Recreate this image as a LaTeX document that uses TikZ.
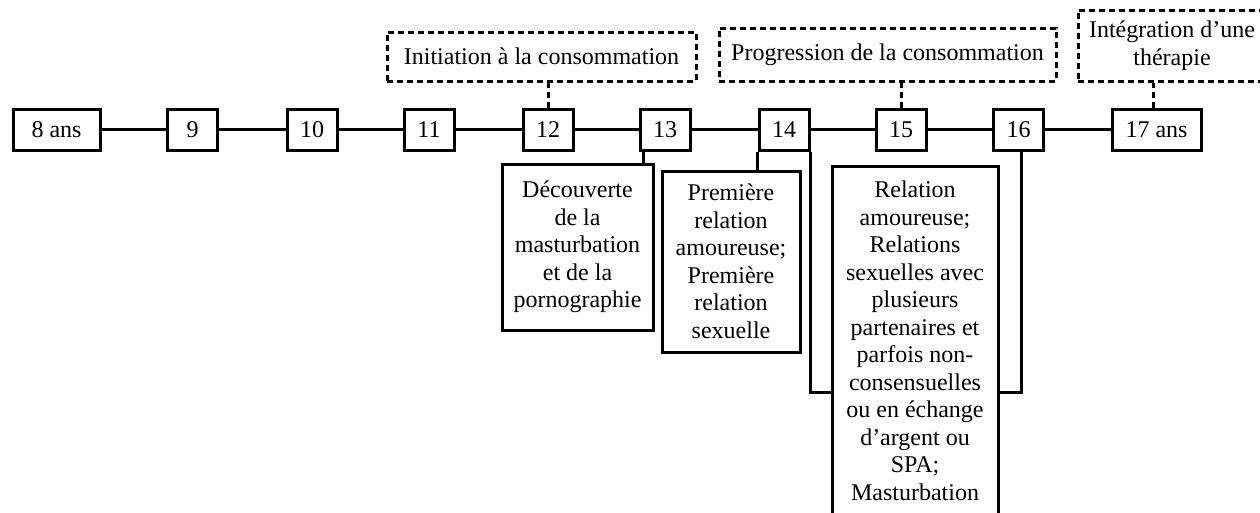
\documentclass[tikz,border=0pt]{standalone}
\usepackage{fontspec}
\setmainfont{Liberation Serif}
\begin{document}
\begin{tikzpicture}[x=1pt,y=-1pt,
  every node/.style={font=\fontsize{24}{27.5}\selectfont},
  year/.style={draw,line width=3pt,minimum height=41pt,minimum width=50pt,inner sep=0pt},
  phase/.style={draw,line width=3pt,dash pattern=on 6pt off 4pt,inner sep=0pt,align=center},
  event/.style={draw,line width=3pt,inner sep=0pt,align=center},
  link/.style={line width=3pt},
  dlink/.style={line width=3pt,dash pattern=on 6pt off 4pt}]
\useasboundingbox (0,0) rectangle (1260,512);

% timeline of ages
\node[year,minimum width=87pt] (a8) at (56.5,129.5) {8 ans};
\node[year] (a9)  at (192.5,129.5) {9};
\node[year] (a10) at (312,129.5) {10};
\node[year] (a11) at (429,129.5) {11};
\node[year] (a12) at (548,129.5) {12};
\node[year] (a13) at (665,129.5) {13};
\node[year] (a14) at (784,129.5) {14};
\node[year] (a15) at (901,129.5) {15};
\node[year] (a16) at (1018.5,129.5) {16};
\node[year,minimum width=89pt] (a17) at (1156.5,129.5) {17 ans};

\draw[link] (a8) -- (a9) -- (a10) -- (a11) -- (a12) -- (a13) -- (a14) -- (a15) -- (a16) -- (a17);

% phases
\node[phase,minimum width=309pt,minimum height=49pt] (init) at (541.5,56.5) {Initiation à la consommation};
\node[phase,minimum width=337pt,minimum height=53pt] (prog) at (887.5,54.5) {Progression de la consommation};
\node[phase,minimum width=188pt,minimum height=71pt] (ther) at (1172,45.5) {Intégration d’une\\thérapie};

\draw[dlink] (a12.north) -- (a12.north |- init.south);
\draw[dlink] (a15.north) -- (a15.north |- prog.south);
\draw[dlink] ([xshift=-3.5pt]a17.north) -- ([xshift=-3.5pt]a17.north |- ther.south);

% events
\node[event,minimum width=151pt,minimum height=166pt] (dec) at (577.5,247)
  {Découverte\\de la\\masturbation\\et de la\\pornographie};
\node[event,minimum width=138pt,minimum height=181pt] (prem) at (731,261.5)
  {Première\\relation\\amoureuse;\\Première\\relation\\sexuelle};
\node[event,minimum width=166pt,minimum height=350pt] (rel) at (915,341)
  {Relation\\amoureuse;\\Relations\\sexuelles avec\\plusieurs\\partenaires et\\parfois non-\\consensuelles\\ou en échange\\d’argent ou\\SPA;\\Masturbation};

\coordinate (bend) at (900,392);
\draw[link] ([xshift=5pt]a13.south west) -- ([xshift=5pt]a13.south west |- dec.north);
\draw[link] (a14.south west) -- (a14.south west |- prem.north);
\draw[link] (a14.south east) -- (a14.south east |- bend) -- (rel.west |- bend);
\draw[link] ([xshift=2.5pt]a16.south) -- ([xshift=2.5pt]a16.south |- bend) -- (rel.east |- bend);
\end{tikzpicture}
\end{document}
